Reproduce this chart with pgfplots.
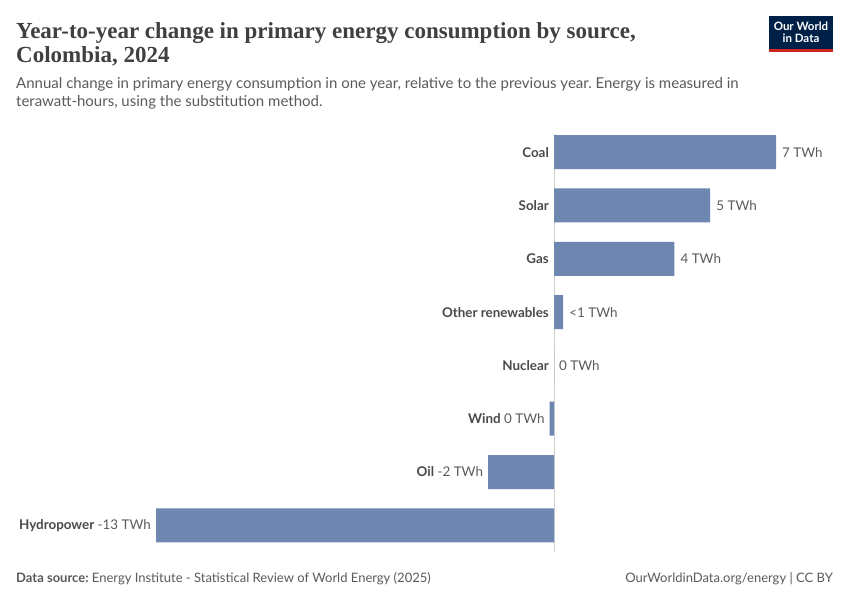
\documentclass[border=0pt]{standalone}
\usepackage{pgfplots}
\pgfplotsset{compat=1.18}
\usepackage{pgfplotstable}
\usepackage{fontspec}
\setmainfont{Lato}
\newfontfamily\titlefont{Liberation Serif}
\frenchspacing

\definecolor{barcol}{HTML}{6D87B0}
\definecolor{titlecol}{HTML}{404040}
\definecolor{subcol}{HTML}{5B5B5B}
\definecolor{namecol}{HTML}{4A4A4A}
\definecolor{axcol}{HTML}{D0D0D0}
\definecolor{owidblue}{HTML}{002147}
\definecolor{owidred}{HTML}{CE261E}

% change in TWh, rows top to bottom
\pgfplotstableread{
pos val
0 7.25
1 5.1
2 3.93
3 0.3
4 0
5 -0.14
6 -2.15
7 -13.0
}\energy

\begin{document}
\begin{tikzpicture}
\path[fill=white, use as bounding box] (0,0) rectangle (850bp,-600bp);

% title and subtitle
\node[anchor=base west, inner sep=0, text=titlecol, font=\titlefont\bfseries\fontsize{23bp}{28bp}\selectfont]
  at (16bp,-38bp) {Year-to-year change in primary energy consumption by source,};
\node[anchor=base west, inner sep=0, text=titlecol, font=\titlefont\bfseries\fontsize{23bp}{28bp}\selectfont]
  at (16bp,-62bp) {Colombia, 2024};
\node[anchor=base west, inner sep=0, text=subcol, font=\fontsize{15bp}{18bp}\selectfont]
  at (16bp,-88bp) {Annual change in primary energy consumption in one year, relative to the previous year. Energy is measured in};
\node[anchor=base west, inner sep=0, text=subcol, font=\fontsize{15bp}{18bp}\selectfont]
  at (16bp,-106bp) {terawatt-hours, using the substitution method.};

% logo
\fill[owidblue] (769bp,-16bp) rectangle (833bp,-52bp);
\fill[owidred] (769bp,-49bp) rectangle (833bp,-52bp);
\node[text=white, font=\bfseries\fontsize{11.5bp}{12bp}\selectfont, align=center, inner sep=0]
  at (801bp,-32.5bp) {Our World\\in Data};

% footer
\node[anchor=base west, inner sep=0, text=subcol, font=\fontsize{13bp}{15bp}\selectfont]
  at (16bp,-582bp) {\textbf{Data source:} Energy Institute - Statistical Review of World Energy (2025)};
\node[anchor=base east, inner sep=0, text=subcol, font=\fontsize{13bp}{15bp}\selectfont]
  at (833bp,-582bp) {OurWorldinData.org/energy | CC BY};

\begin{axis}[
    at={(156bp,-134bp)}, anchor=north west,
    scale only axis,
    width=620bp, height=418bp,
    xmin=-13, xmax=7.25,
    ymin=-0.34, ymax=7.5,
    y dir=reverse,
    hide axis,
    clip=false,
    xbar, bar width=34bp,
]
\draw[axcol, line width=1bp] (axis cs:0,-0.34) -- (axis cs:0,7.5);
\addplot[fill=barcol, draw=none] table[x=val, y=pos] {\energy};

% category names and values
\tikzset{nm/.style={text=namecol, font=\bfseries\fontsize{13.4bp}{15bp}\selectfont, inner sep=0},
         vl/.style={text=subcol, font=\fontsize{13.4bp}{15bp}\selectfont, inner sep=0}}
\newcommand{\nmv}[2]{\textcolor{namecol}{\bfseries\fontsize{13.4bp}{15bp}\selectfont #1} \textcolor{subcol}{\fontsize{13.4bp}{15bp}\selectfont #2}}
\node[nm, anchor=east, xshift=-5bp] at (axis cs:0,0) {Coal};
\node[vl, anchor=west, xshift=6bp] at (axis cs:7.25,0) {7 TWh};
\node[nm, anchor=east, xshift=-5bp] at (axis cs:0,1) {Solar};
\node[vl, anchor=west, xshift=6bp] at (axis cs:5.1,1) {5 TWh};
\node[nm, anchor=east, xshift=-5bp] at (axis cs:0,2) {Gas};
\node[vl, anchor=west, xshift=6bp] at (axis cs:3.93,2) {4 TWh};
\node[nm, anchor=east, xshift=-5bp] at (axis cs:0,3) {Other renewables};
\node[vl, anchor=west, xshift=6bp] at (axis cs:0.3,3) {<1 TWh};
\node[nm, anchor=east, xshift=-5bp] at (axis cs:0,4) {Nuclear};
\node[vl, anchor=west, xshift=5bp] at (axis cs:0,4) {0 TWh};
\node[anchor=east, xshift=-5bp, inner sep=0, font=\fontsize{13.4bp}{15bp}\selectfont] at (axis cs:-0.14,5) {\nmv{Wind}{0 TWh}};
\node[anchor=east, xshift=-5bp, inner sep=0, font=\fontsize{13.4bp}{15bp}\selectfont] at (axis cs:-2.15,6) {\nmv{Oil}{-2 TWh}};
\node[anchor=east, xshift=-5bp, inner sep=0, font=\fontsize{13.4bp}{15bp}\selectfont] at (axis cs:-13,7) {\nmv{Hydropower}{-13 TWh}};
\end{axis}
\end{tikzpicture}
\end{document}
